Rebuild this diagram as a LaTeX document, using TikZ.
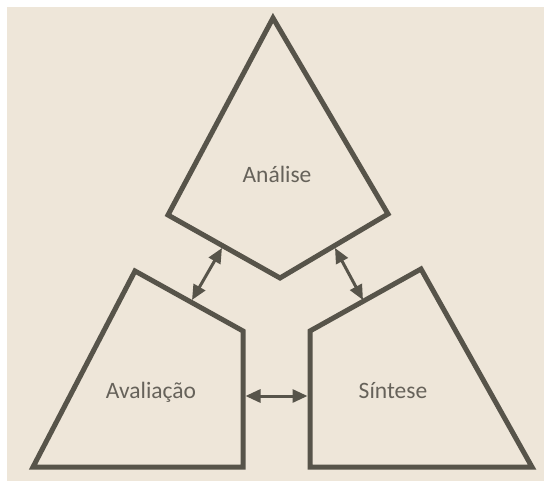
\documentclass[tikz,border=0pt]{standalone}
\usepackage{fontspec}
\setmainfont{Carlito}
\usetikzlibrary{arrows.meta}
\definecolor{paper}{HTML}{EEE6D9}
\definecolor{ink}{HTML}{57544A}
\definecolor{txt}{HTML}{66625A}
\tikzset{
  shapebox/.style={draw=ink, line width=5pt, line join=miter},
  link/.style={draw=ink, line width=3pt, {Triangle[length=15pt 0,width=13pt 0]}-{Triangle[length=15pt 0,width=13pt 0]}},
  label/.style={text=txt, font=\fontsize{23.5}{26}\selectfont, anchor=base, inner sep=0pt}
}
\begin{document}
\begin{tikzpicture}[x=1pt,y=-1pt]
\useasboundingbox (0,0) rectangle (544,484);
\fill[white] (0,0) rectangle (544,484);
\fill[paper] (7,7) rectangle (544,481);
% Analise
\draw[shapebox] (273,18) -- (388,214) -- (280,278) -- (168,215) -- cycle;
% Avaliacao
\draw[shapebox] (135,271) -- (243,331) -- (243,467) -- (33,467) -- cycle;
% Sintese
\draw[shapebox] (421,269) -- (310,331) -- (310,467) -- (532,467) -- cycle;
\node[label] (analise) at (277,183) {Análise};
\node[label] (avaliacao) at (151,398) {Avaliação};
\node[label] (sintese) at (393,398) {Síntese};
% arrow ends
\coordinate (a1) at (222,248);
\coordinate (v1) at (192,300);
\coordinate (a2) at (335,248);
\coordinate (s1) at (363,300);
\coordinate (v2) at (245.5,396);
\coordinate (s2) at (307.5,396);
\draw[link] (a1) -- (v1);
\draw[link] (a2) -- (s1);
\draw[link] (v2) -- (s2);
\end{tikzpicture}
\end{document}
